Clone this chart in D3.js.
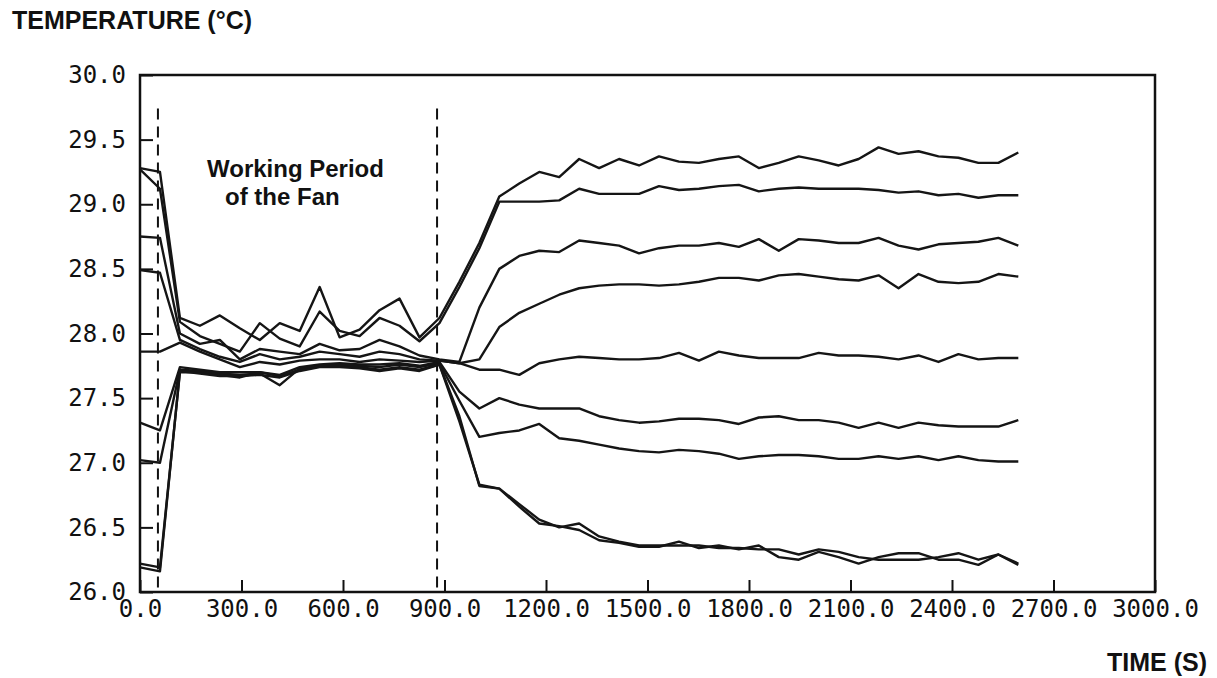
<!DOCTYPE html>
<html>
<head>
<meta charset="utf-8">
<script src="https://cdnjs.cloudflare.com/ajax/libs/d3/7.8.5/d3.min.js"></script>
<style>
  body { margin: 0; background: #fff; }
  .axisText { font-family: "Liberation Sans", Arial, sans-serif; font-weight: bold; fill: #111; }
</style>
</head>
<body>
<div id="chart"></div>
<script>
// sample times (s), one reading every ~59 s
var times = [0, 59, 118, 177, 236, 295, 354, 413, 472, 531, 590, 649, 708, 767, 826,
  885, 944, 1003, 1062, 1121, 1180, 1239, 1298, 1357, 1416, 1475, 1534, 1593, 1652,
  1711, 1770, 1829, 1888, 1947, 2006, 2065, 2124, 2183, 2242, 2301, 2360, 2419, 2478,
  2537, 2596];

// temperature readings (°C), sensors ordered top to bottom at the end of the run
var sensor1 = [29.28, 29.25, 28.12, 28.06, 28.14, 28.04, 27.95, 28.08, 28.02, 28.36, 27.97, 28.03, 28.18, 28.27, 27.97,
  28.12, 28.40, 28.70, 29.06, 29.16, 29.25, 29.21, 29.35, 29.28, 29.35, 29.30, 29.37, 29.33, 29.32, 29.35,
  29.37, 29.28, 29.32, 29.37, 29.34, 29.30, 29.35, 29.44, 29.39, 29.41, 29.37, 29.36, 29.32, 29.32, 29.40];
var sensor2 = [29.27, 29.12, 28.09, 27.98, 27.92, 27.86, 28.08, 27.96, 27.90, 28.17, 28.02, 27.98, 28.12, 28.06, 27.94,
  28.08, 28.36, 28.66, 29.02, 29.02, 29.02, 29.03, 29.12, 29.08, 29.08, 29.08, 29.14, 29.11, 29.12, 29.14,
  29.15, 29.10, 29.12, 29.13, 29.12, 29.12, 29.12, 29.11, 29.09, 29.10, 29.07, 29.08, 29.05, 29.07, 29.07];
var sensor3 = [28.75, 28.74, 28.00, 27.92, 27.95, 27.80, 27.88, 27.86, 27.84, 27.92, 27.87, 27.88, 27.95, 27.90, 27.83,
  27.80, 27.78, 28.20, 28.50, 28.60, 28.64, 28.63, 28.72, 28.70, 28.68, 28.62, 28.66, 28.68, 28.68, 28.70,
  28.67, 28.73, 28.64, 28.73, 28.72, 28.70, 28.70, 28.74, 28.68, 28.65, 28.69, 28.70, 28.71, 28.74, 28.68];
var sensor4 = [28.49, 28.47, 27.95, 27.88, 27.82, 27.78, 27.84, 27.80, 27.82, 27.86, 27.84, 27.82, 27.86, 27.84, 27.80,
  27.79, 27.77, 27.80, 28.05, 28.16, 28.23, 28.30, 28.35, 28.37, 28.38, 28.38, 28.37, 28.38, 28.40, 28.43,
  28.43, 28.41, 28.45, 28.46, 28.44, 28.42, 28.41, 28.45, 28.35, 28.46, 28.40, 28.39, 28.40, 28.46, 28.44];
var sensor5 = [27.86, 27.86, 27.93, 27.86, 27.80, 27.74, 27.78, 27.76, 27.79, 27.80, 27.80, 27.78, 27.80, 27.79, 27.78,
  27.79, 27.77, 27.72, 27.72, 27.68, 27.77, 27.80, 27.82, 27.81, 27.80, 27.80, 27.81, 27.85, 27.79, 27.86,
  27.83, 27.81, 27.81, 27.81, 27.85, 27.83, 27.83, 27.82, 27.80, 27.83, 27.78, 27.84, 27.80, 27.81, 27.81];
var sensor6 = [27.31, 27.25, 27.74, 27.72, 27.70, 27.70, 27.70, 27.68, 27.74, 27.76, 27.77, 27.76, 27.76, 27.77, 27.75,
  27.78, 27.55, 27.42, 27.50, 27.45, 27.42, 27.42, 27.42, 27.36, 27.33, 27.31, 27.32, 27.34, 27.34, 27.33,
  27.30, 27.35, 27.36, 27.33, 27.33, 27.31, 27.27, 27.31, 27.27, 27.31, 27.29, 27.28, 27.28, 27.28, 27.33];
var sensor7 = [27.02, 27.00, 27.72, 27.71, 27.69, 27.68, 27.69, 27.60, 27.73, 27.75, 27.76, 27.75, 27.74, 27.76, 27.74,
  27.77, 27.48, 27.20, 27.23, 27.25, 27.30, 27.19, 27.17, 27.14, 27.11, 27.09, 27.08, 27.10, 27.09, 27.07,
  27.03, 27.05, 27.06, 27.06, 27.05, 27.03, 27.03, 27.05, 27.03, 27.05, 27.02, 27.05, 27.02, 27.01, 27.01];
var sensor8 = [26.22, 26.19, 27.70, 27.70, 27.68, 27.66, 27.70, 27.67, 27.72, 27.75, 27.75, 27.74, 27.72, 27.74, 27.72,
  27.76, 27.32, 26.83, 26.80, 26.66, 26.53, 26.51, 26.48, 26.40, 26.38, 26.35, 26.35, 26.39, 26.34, 26.36,
  26.33, 26.36, 26.27, 26.25, 26.31, 26.27, 26.22, 26.27, 26.30, 26.30, 26.25, 26.25, 26.21, 26.29, 26.21];
var sensor9 = [26.19, 26.16, 27.71, 27.69, 27.67, 27.67, 27.68, 27.66, 27.71, 27.74, 27.74, 27.73, 27.71, 27.73, 27.71,
  27.76, 27.36, 26.82, 26.80, 26.68, 26.56, 26.50, 26.53, 26.43, 26.39, 26.36, 26.36, 26.36, 26.36, 26.34,
  26.34, 26.33, 26.33, 26.29, 26.33, 26.31, 26.27, 26.25, 26.25, 26.25, 26.27, 26.30, 26.25, 26.29, 26.22];

var sensors = [sensor1, sensor2, sensor3, sensor4, sensor5, sensor6, sensor7, sensor8, sensor9];

// tick labels and fan on / off marks
var xTicks = [0, 300, 600, 900, 1200, 1500, 1800, 2100, 2400, 2700, 3000];
var yTicks = [26.0, 26.5, 27.0, 27.5, 28.0, 28.5, 29.0, 29.5, 30.0];
var fanMarks = [53, 878];

var svgWidth = 1217;
var svgHeight = 678;

var margin = {
  top: 75,
  right: 62,
  bottom: 86,
  left: 140
};

var width = svgWidth - margin.left - margin.right;
var height = svgHeight - margin.top - margin.bottom;

var svg = d3.select("#chart")
  .append("svg")
  .attr("width", svgWidth)
  .attr("height", svgHeight);

var chartGroup = svg.append("g")
  .attr("transform", `translate(${margin.left}, ${margin.top})`);

var xLinearScale = d3.scaleLinear()
  .domain([0, 3000])
  .range([0, width]);

var yLinearScale = d3.scaleLinear()
  .domain([26, 30])
  .range([height, 0]);

// axes with ticks pointing into the plot
var bottomAxis = d3.axisBottom(xLinearScale)
  .tickValues(xTicks)
  .tickSize(-12)
  .tickPadding(8)
  .tickFormat(d3.format(".1f"));

var leftAxis = d3.axisLeft(yLinearScale)
  .tickValues(yTicks)
  .tickSize(-13)
  .tickPadding(14)
  .tickFormat(d3.format(".1f"));

var xAxisGroup = chartGroup.append("g")
  .attr("transform", `translate(0, ${height})`)
  .call(bottomAxis);

var yAxisGroup = chartGroup.append("g")
  .call(leftAxis);

[xAxisGroup, yAxisGroup].forEach(function(g) {
  g.select(".domain").remove();
  g.selectAll("line").attr("stroke", "#111").attr("stroke-width", 2);
  g.selectAll("text")
    .attr("font-family", "'DejaVu Sans Mono', monospace")
    .attr("font-size", 24)
    .attr("fill", "#111");
});

// frame
chartGroup.append("rect")
  .attr("x", 0)
  .attr("y", 0)
  .attr("width", width)
  .attr("height", height)
  .attr("fill", "none")
  .attr("stroke", "#111")
  .attr("stroke-width", 2.5);

// fan period marks
chartGroup.selectAll(".fan-mark")
  .data(fanMarks)
  .enter()
  .append("line")
  .attr("class", "fan-mark")
  .attr("x1", d => xLinearScale(d))
  .attr("x2", d => xLinearScale(d))
  .attr("y1", yLinearScale(29.74))
  .attr("y2", yLinearScale(26.03))
  .attr("stroke", "#111")
  .attr("stroke-width", 2)
  .attr("stroke-dasharray", "11,7");

// temperature curves
var line = d3.line()
  .x((d, i) => xLinearScale(times[i]))
  .y(d => yLinearScale(d));

chartGroup.selectAll(".sensor")
  .data(sensors)
  .enter()
  .append("path")
  .attr("class", "sensor")
  .attr("d", line)
  .attr("fill", "none")
  .attr("stroke", "#151515")
  .attr("stroke-width", 2.4)
  .attr("stroke-linejoin", "round");

// annotation
svg.append("text")
  .attr("class", "axisText")
  .attr("x", 207)
  .attr("y", 177)
  .attr("font-size", 24)
  .text("Working Period");

svg.append("text")
  .attr("class", "axisText")
  .attr("x", 225)
  .attr("y", 205)
  .attr("font-size", 24)
  .text("of the Fan");

// axes labels
svg.append("text")
  .attr("class", "axisText")
  .attr("x", 12)
  .attr("y", 29)
  .attr("font-size", 25)
  .text("TEMPERATURE (°C)");

svg.append("text")
  .attr("class", "axisText")
  .attr("x", 1207)
  .attr("y", 671)
  .attr("text-anchor", "end")
  .attr("font-size", 25)
  .text("TIME (S)");
</script>
</body>
</html>
